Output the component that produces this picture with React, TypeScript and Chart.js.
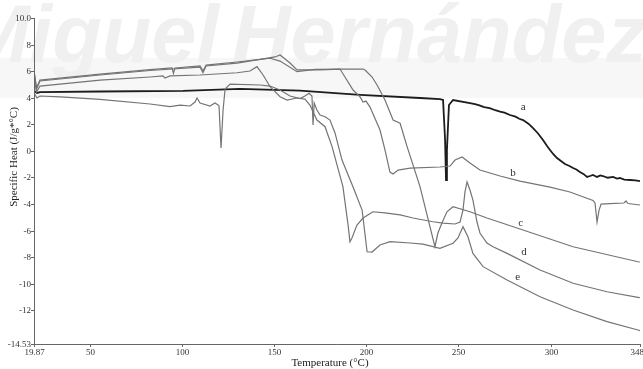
import React, { useEffect, useRef } from "react";
import { Chart, registerables } from "chart.js";

Chart.register(...registerables);

// ---- data (Temperature °C, Specific Heat J/g*°C) ----
const aTemp = [19.87, 21.5, 23.1, 55.7, 100.7, 131.6, 164.1, 196.7, 229.2, 240.0, 241.7, 242.8, 243.3, 243.8, 244.9, 247.1, 256.3, 259.0, 261.0, 264.0, 267.0, 270.0, 272.6, 275.0, 278.0, 281.0, 283.0, 285.1, 288.0, 290.5, 293.0, 295.9, 298.0, 299.7, 301.5, 303.5, 306.0, 307.8, 310.0, 312.2, 314.0, 315.9, 318.0, 319.8, 321.4, 323.0, 325.2, 327.0, 328.4, 331.0, 333.9, 336.0, 337.6, 340.0, 343.1, 346.0, 348.5];
const aHeat = [4.51, 4.36, 4.43, 4.47, 4.51, 4.66, 4.54, 4.21, 3.98, 3.90, 3.83, 0.82, -2.19, 0.07, 3.45, 3.83, 3.60, 3.52, 3.44, 3.30, 3.22, 3.06, 2.95, 2.88, 2.70, 2.58, 2.42, 2.32, 2.05, 1.72, 1.35, 0.82, 0.38, 0.07, -0.25, -0.54, -0.80, -0.99, -1.12, -1.29, -1.40, -1.59, -1.75, -1.96, -1.89, -1.81, -1.96, -1.85, -1.89, -2.02, -1.96, -2.08, -2.04, -2.16, -2.19, -2.22, -2.27];

const bTemp = [19.87, 21.23, 23.1, 55.7, 82.8, 94.7, 95.5, 96.3, 109.9, 111.5, 113.2, 130.0, 142.4, 150.6, 153.3, 158.7, 162.5, 175.0, 185.8, 188.5, 192.9, 196.7, 198.3, 199.9, 202.1, 207.5, 210.2, 212.9, 214.6, 217.3, 223.8, 240.0, 245.5, 248.2, 252.0, 256.3, 261.7, 272.6, 283.4, 299.7, 310.5, 323.0, 324.1, 325.2, 326.3, 327.4, 332.2, 339.8, 340.9, 342.0, 348.5];
const bHeat = [6.09, 4.73, 5.33, 5.78, 6.12, 6.24, 5.84, 6.24, 6.39, 6.01, 6.46, 6.69, 6.88, 7.07, 7.22, 6.61, 6.09, 6.09, 6.16, 5.56, 4.58, 4.06, 3.68, 3.75, 3.30, 1.57, 0.07, -1.59, -1.74, -1.44, -1.29, -1.21, -1.14, -0.69, -0.46, -0.91, -1.44, -1.89, -2.27, -2.72, -3.09, -3.73, -3.92, -5.35, -4.45, -4.00, -3.96, -3.92, -3.77, -3.96, -4.07];

const cTemp = [19.87, 21.23, 23.1, 55.7, 82.8, 109.9, 111.5, 113.2, 130.0, 142.4, 148.0, 153.3, 162.5, 172.3, 185.8, 198.3, 199.4, 203.2, 205.9, 210.2, 214.6, 218.4, 222.2, 229.2, 234.6, 237.3, 238.9, 241.1, 243.8, 247.1, 256.3, 265.5, 281.8, 312.2, 347.4, 348.5];
const cHeat = [5.94, 4.66, 5.26, 5.71, 6.05, 6.31, 5.88, 6.39, 6.61, 6.88, 6.97, 6.76, 5.96, 6.14, 6.16, 6.16, 6.09, 5.56, 4.96, 3.83, 2.32, 2.08, 0.32, -2.69, -5.70, -7.21, -6.18, -5.43, -4.58, -4.20, -4.58, -5.05, -5.80, -7.21, -8.34, -8.36];

const dTemp = [19.87, 21.23, 23.1, 55.7, 82.8, 89.8, 90.9, 93.6, 109.9, 130.0, 137.0, 140.8, 144.1, 147.9, 153.3, 157.1, 162.5, 166.8, 169.5, 173.3, 177.7, 181.5, 187.4, 190.2, 191.2, 192.3, 195.0, 198.3, 203.7, 210.2, 218.4, 225.4, 236.2, 241.7, 248.2, 250.9, 252.5, 253.6, 254.7, 256.3, 257.9, 260.1, 261.7, 265.5, 268.8, 276.4, 294.3, 312.2, 330.6, 347.4, 348.5];
const dHeat = [5.56, 4.43, 4.88, 5.33, 5.56, 5.64, 5.49, 5.64, 5.71, 5.88, 6.01, 6.34, 5.71, 4.83, 4.08, 3.83, 3.98, 3.90, 3.45, 2.32, 1.82, 0.32, -2.69, -5.58, -6.83, -6.55, -5.58, -5.05, -4.58, -4.67, -4.82, -5.05, -5.33, -5.43, -5.50, -5.35, -4.45, -3.09, -2.34, -2.94, -3.70, -5.35, -6.18, -6.93, -7.21, -7.71, -8.96, -9.96, -10.60, -11.02, -11.05];

const eTemp = [19.87, 21.5, 23.1, 34.0, 55.7, 82.8, 93.6, 99.1, 104.5, 107.2, 108.3, 109.9, 115.3, 118.0, 119.7, 120.2, 121.3, 122.4, 123.5, 126.2, 142.4, 147.9, 153.3, 158.7, 164.1, 166.8, 169.0, 170.6, 171.2, 171.8, 173.3, 175.0, 177.7, 180.4, 183.1, 186.9, 192.9, 197.8, 200.5, 203.2, 207.5, 212.9, 223.8, 230.8, 240.0, 247.1, 249.8, 252.5, 255.2, 257.9, 263.4, 276.4, 294.3, 312.2, 330.6, 347.4, 348.5];
const eHeat = [4.36, 3.98, 4.13, 4.06, 3.87, 3.53, 3.33, 3.45, 3.38, 3.68, 3.98, 3.60, 3.38, 3.60, 3.45, 3.38, 0.22, 3.08, 4.66, 5.03, 4.96, 4.88, 4.58, 4.13, 3.94, 4.13, 4.33, 4.13, 1.95, 3.60, 3.08, 2.70, 2.57, 2.32, 1.35, -0.69, -2.72, -4.45, -7.59, -7.61, -7.08, -6.83, -6.93, -7.01, -7.33, -6.95, -6.55, -5.70, -6.46, -7.71, -8.71, -9.72, -10.97, -11.97, -12.85, -13.48, -13.52];

// axis ticks
const xTicks = [19.87, 50, 100, 150, 200, 250, 300, 348.5];
const xTickLabels = ["19.87", "50", "100", "150", "200", "250", "300", "348.5"];
const yTicks = [10, 8, 6, 4, 2, 0, -2, -4, -6, -8, -10, -12, -14.53];
const yTickLabels = ["10.0", "8", "6", "4", "2", "0", "-2", "-4", "-6", "-8", "-10", "-12", "-14.53"];

// curve labels
const curveNames = ["a", "b", "c", "d", "e"];
const labelTemp = [285.1, 279.6, 283.8, 285.6, 282.2];
const labelHeat = [3.33, -1.66, -5.4, -7.59, -9.51];

const SERIF = '"Liberation Serif", "Times New Roman", "DejaVu Serif", serif';

function pts(xs: number[], ys: number[]) {
  return xs.map((x, i) => ({ x, y: ys[i] }));
}

const decorPlugin = {
  id: "decor",
  beforeDraw(chart: any) {
    const ctx = chart.ctx as CanvasRenderingContext2D;
    ctx.save();
    ctx.fillStyle = "#ffffff";
    ctx.fillRect(0, 0, chart.width, chart.height);
    // watermark band + letters
    ctx.fillStyle = "#f7f7f7";
    ctx.fillRect(0, 58, chart.width, 40);
    let size = 84;
    ctx.font = `italic bold ${size}px "Liberation Sans", Arial, sans-serif`;
    const w = ctx.measureText("Hernández").width;
    size = (size * 415) / w;
    ctx.font = `italic bold ${size}px "Liberation Sans", Arial, sans-serif`;
    ctx.fillStyle = "#f0f0f0";
    ctx.textBaseline = "alphabetic";
    ctx.textAlign = "left";
    ctx.fillText("Hernández", 232, 62);
    ctx.textAlign = "right";
    ctx.fillText("Miguel", 219, 62);
    ctx.restore();
  },
  afterDraw(chart: any) {
    const ctx = chart.ctx as CanvasRenderingContext2D;
    const area = chart.chartArea;
    const xs = chart.scales.x;
    const ys = chart.scales.y;
    ctx.save();
    ctx.strokeStyle = "#666";
    ctx.lineWidth = 1;
    ctx.beginPath();
    ctx.moveTo(area.left + 0.5, area.top);
    ctx.lineTo(area.left + 0.5, area.bottom + 0.5);
    ctx.lineTo(area.right, area.bottom + 0.5);
    ctx.stroke();

    ctx.fillStyle = "#333";
    ctx.font = `9px ${SERIF}`;
    // y ticks
    ctx.textAlign = "right";
    ctx.textBaseline = "middle";
    yTicks.forEach((v, i) => {
      const py = Math.round(ys.getPixelForValue(v)) + 0.5;
      ctx.beginPath();
      ctx.moveTo(area.left - 3, py);
      ctx.lineTo(area.left, py);
      ctx.stroke();
      ctx.fillText(yTickLabels[i], area.left - 3, py);
    });
    // x ticks
    ctx.textAlign = "center";
    ctx.textBaseline = "top";
    xTicks.forEach((v, i) => {
      const px = Math.round(xs.getPixelForValue(v)) + 0.5;
      ctx.beginPath();
      ctx.moveTo(px, area.bottom);
      ctx.lineTo(px, area.bottom + 3);
      ctx.stroke();
      ctx.fillText(xTickLabels[i], px, area.bottom + 4);
    });

    // axis titles
    ctx.font = `11px ${SERIF}`;
    ctx.fillStyle = "#222";
    ctx.textAlign = "center";
    ctx.textBaseline = "middle";
    ctx.fillText("Temperature (°C)", 330, 363);
    ctx.save();
    ctx.translate(14, 157);
    ctx.rotate(-Math.PI / 2);
    ctx.fillText("Specific Heat (J/g*°C)", 0, 0);
    ctx.restore();

    // curve labels
    ctx.font = `11px ${SERIF}`;
    ctx.fillStyle = "#333";
    curveNames.forEach((n, i) => {
      ctx.fillText(n, xs.getPixelForValue(labelTemp[i]), ys.getPixelForValue(labelHeat[i]));
    });
    ctx.restore();
  },
};

export default function App() {
  const ref = useRef<HTMLCanvasElement | null>(null);
  useEffect(() => {
    if (!ref.current) return;
    const gray = "#747474";
    const mk = (label: string, xs: number[], ys: number[], color: string, width: number) => ({
      label,
      data: pts(xs, ys),
      borderColor: color,
      borderWidth: width,
      pointRadius: 0,
      tension: 0,
      fill: false,
    });
    const chart = new Chart(ref.current, {
      type: "line",
      data: {
        datasets: [
          mk("e", eTemp, eHeat, gray, 1.2),
          mk("d", dTemp, dHeat, gray, 1.2),
          mk("c", cTemp, cHeat, gray, 1.2),
          mk("b", bTemp, bHeat, gray, 1.2),
          mk("a", aTemp, aHeat, "#1c1c1c", 1.8),
        ],
      },
      options: {
        animation: false,
        responsive: false,
        devicePixelRatio: 1,
        layout: { padding: { left: 34, right: 3, top: 18, bottom: 25 } },
        scales: {
          x: { type: "linear", min: 19.87, max: 348.5, display: false },
          y: { type: "linear", min: -14.53, max: 10, display: false },
        },
        plugins: { legend: { display: false }, tooltip: { enabled: false } },
      },
      plugins: [decorPlugin],
    } as any);
    return () => chart.destroy();
  }, []);
  return (
    <div style={{ position: "fixed", left: 0, top: 0, width: 643, height: 369, background: "#fff" }}>
      <canvas ref={ref} width={643} height={369} style={{ display: "block", width: 643, height: 369 }} />
    </div>
  );
}
